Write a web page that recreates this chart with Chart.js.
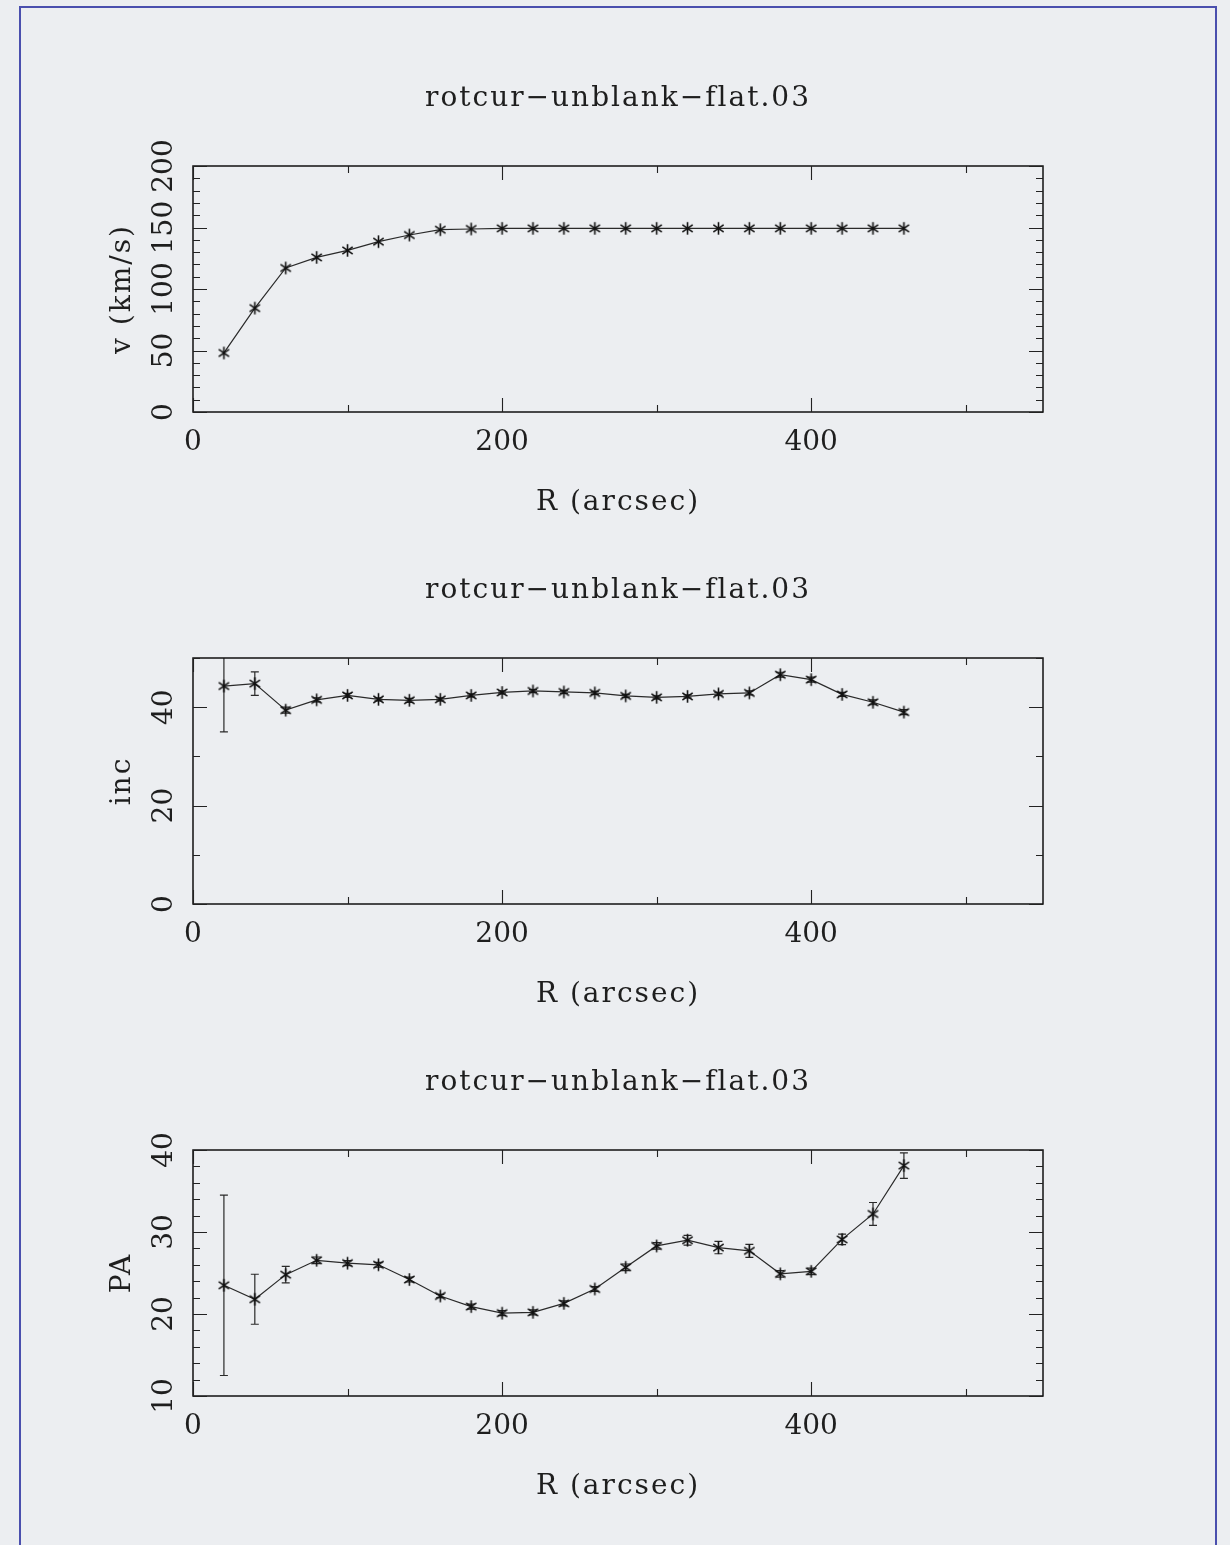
<!DOCTYPE html>
<html>
<head>
<meta charset="utf-8">
<title>rotcur-unblank-flat.03</title>
<script src="https://cdn.jsdelivr.net/npm/chart.js@4.4.1/dist/chart.umd.min.js"></script>
<style>
    html, body { margin: 0; padding: 0; background: #eceef1; }
    body { width: 1230px; height: 1545px; position: relative; overflow: hidden; }
    #frame { position: absolute; left: 19px; top: 6px; width: 1198px; height: 1600px; border: 2px solid #4a4fae; box-sizing: border-box; }
    canvas.panel { position: absolute; left: 0; }
</style>
</head>
<body>
<div id="frame"></div>
<canvas id="vChart" class="panel" width="1230" height="492" style="top:50px"></canvas>
<canvas id="incChart" class="panel" width="1230" height="492" style="top:542px"></canvas>
<canvas id="paChart" class="panel" width="1230" height="492" style="top:1034px"></canvas>
<script>
// ring radii (arcsec)
const radius = [20, 40, 60, 80, 100, 120, 140, 160, 180, 200, 220, 240, 260, 280, 300, 320, 340, 360, 380, 400, 420, 440, 460];

// rotation velocity (km/s)
const vRot = [48.0, 84.5, 117.1, 125.7, 131.4, 138.5, 143.9, 148.2, 148.8, 149.3, 149.3, 149.3, 149.3, 149.3, 149.3, 149.3, 149.3, 149.3, 149.3, 149.3, 149.3, 149.3, 149.3];

// inclination and its error
const incl = [44.3, 44.8, 39.4, 41.5, 42.4, 41.6, 41.4, 41.6, 42.4, 43.0, 43.3, 43.1, 42.9, 42.3, 42.0, 42.2, 42.7, 42.9, 46.6, 45.6, 42.6, 41.0, 39.0];
const inclErr = [9.3, 2.4, 0.6, 0.4, 0.4, 0.3, 0.4, 0.3, 0.3, 0.3, 0.3, 0.3, 0.3, 0.3, 0.3, 0.3, 0.3, 0.4, 0.5, 0.5, 0.4, 0.5, 0.5];

// position angle and its error
const posAng = [23.5, 21.8, 24.8, 26.55, 26.2, 26.0, 24.2, 22.2, 20.9, 20.1, 20.2, 21.3, 23.05, 25.7, 28.3, 29.0, 28.1, 27.7, 24.9, 25.2, 29.1, 32.2, 38.1];
const posAngErr = [11.0, 3.05, 1.0, 0.4, 0.3, 0.3, 0.3, 0.2, 0.3, 0.3, 0.3, 0.3, 0.3, 0.4, 0.4, 0.6, 0.75, 0.8, 0.4, 0.4, 0.65, 1.4, 1.55];

const xTickLabels = [0, 200, 400];
const vTickLabels = [0, 50, 100, 150, 200];
const incTickLabels = [0, 20, 40];
const paTickLabels = [10, 20, 30, 40];

const plotTitle = 'rotcur\u2212unblank\u2212flat.03';
const xTitle = 'R (arcsec)';

const FONT = '28px "DejaVu Serif", serif';
const INK = '#1e1e1e';

// pgplot style asterisk marker
function makeAsterisk() {
    var c = document.createElement('canvas');
    c.width = 17; c.height = 17;
    var g = c.getContext('2d');
    g.strokeStyle = '#111';
    g.lineWidth = 1.6;
    var r = 6.3, cx = 8.5, cy = 8.5;
    g.beginPath();
    [90, 35, -35].forEach(function (a) {
        var rad = a * Math.PI / 180;
        g.moveTo(cx - r * Math.cos(rad), cy - r * Math.sin(rad));
        g.lineTo(cx + r * Math.cos(rad), cy + r * Math.sin(rad));
    });
    g.stroke();
    return c;
}
const asterisk = makeAsterisk();

const boxAxes = {
    id: 'boxAxes',
    beforeDatasetsDraw(chart, args, opts) {
        if (!opts.errors) return;
        const ctx = chart.ctx, a = chart.chartArea;
        const xs = chart.scales.x, ys = chart.scales.y;
        ctx.save();
        ctx.beginPath();
        ctx.rect(a.left, a.top, a.right - a.left, a.bottom - a.top);
        ctx.clip();
        ctx.strokeStyle = '#2a2a2a';
        ctx.lineWidth = 1.2;
        opts.values.forEach(function (v, i) {
            const px = xs.getPixelForValue(radius[i]);
            const y1 = ys.getPixelForValue(v + opts.errors[i]);
            const y2 = ys.getPixelForValue(v - opts.errors[i]);
            ctx.beginPath();
            ctx.moveTo(px, y1); ctx.lineTo(px, y2);
            ctx.moveTo(px - 4, y1); ctx.lineTo(px + 4, y1);
            ctx.moveTo(px - 4, y2); ctx.lineTo(px + 4, y2);
            ctx.stroke();
        });
        ctx.restore();
    },
    afterDraw(chart, args, opts) {
        const ctx = chart.ctx, a = chart.chartArea;
        const xs = chart.scales.x, ys = chart.scales.y;
        ctx.save();
        // box
        ctx.strokeStyle = '#111';
        ctx.lineWidth = 1.5;
        ctx.strokeRect(a.left, a.top, a.right - a.left, a.bottom - a.top);
        // ticks
        ctx.lineWidth = 1.1;
        ctx.strokeStyle = '#222';
        ctx.beginPath();
        for (let v = xs.min; v <= xs.max; v += 100) {
            const px = Math.round(xs.getPixelForValue(v)) + 0.5;
            const len = (v % 200 === 0) ? 14 : 7;
            ctx.moveTo(px, a.bottom); ctx.lineTo(px, a.bottom - len);
            ctx.moveTo(px, a.top); ctx.lineTo(px, a.top + len);
        }
        for (let v = ys.min; v <= ys.max + 1e-6; v += opts.yMinor) {
            const py = Math.round(ys.getPixelForValue(v)) + 0.5;
            const len = (Math.abs(v % opts.yMajor) < 1e-6) ? 14 : 7;
            ctx.moveTo(a.left, py); ctx.lineTo(a.left + len, py);
            ctx.moveTo(a.right, py); ctx.lineTo(a.right - len, py);
        }
        ctx.stroke();

        // text
        ctx.fillStyle = INK;
        ctx.font = FONT;
        ctx.letterSpacing = '2px';
        ctx.textAlign = 'center';
        ctx.textBaseline = 'alphabetic';
        const cx = (a.left + a.right) / 2;
        ctx.fillText(plotTitle, cx, a.top - 60);
        ctx.fillText(xTitle, cx, a.bottom + 98);
        ctx.letterSpacing = '0px';
        xTickLabels.forEach(function (t) {
            ctx.fillText(String(t), xs.getPixelForValue(t), a.bottom + 38);
        });
        opts.yLabels.forEach(function (t) {
            ctx.save();
            ctx.translate(172, ys.getPixelForValue(t));
            ctx.rotate(-Math.PI / 2);
            ctx.fillText(String(t), 0, 0);
            ctx.restore();
        });
        ctx.save();
        ctx.letterSpacing = '2px';
        ctx.translate(130, (a.top + a.bottom) / 2);
        ctx.rotate(-Math.PI / 2);
        ctx.fillText(opts.yTitle, 0, 0);
        ctx.restore();
        ctx.restore();
    }
};

function buildPanel(canvasId, values, errors, yMin, yMax, yMajor, yMinor, yLabels, yTitle) {
    const config = {
        type: 'line',
        data: {
            datasets: [{
                data: radius.map((r, i) => ({ x: r, y: values[i] })),
                borderColor: '#2a2a2a',
                borderWidth: 1.2,
                pointStyle: asterisk,
                pointRadius: 6,
                tension: 0,
                fill: false
            }]
        },
        options: {
            responsive: false,
            animation: false,
            devicePixelRatio: 1,
            events: [],
            layout: { padding: { left: 193, right: 187, top: 116, bottom: 130 } },
            scales: {
                x: { type: 'linear', min: 0, max: 550, display: false },
                y: { type: 'linear', min: yMin, max: yMax, display: false }
            },
            plugins: {
                legend: { display: false },
                tooltip: { enabled: false },
                boxAxes: {
                    values: values,
                    errors: errors,
                    yMajor: yMajor,
                    yMinor: yMinor,
                    yLabels: yLabels,
                    yTitle: yTitle
                }
            }
        },
        plugins: [boxAxes]
    };
    return new Chart(document.getElementById(canvasId), config);
}

buildPanel('vChart', vRot, null, 0, 200, 50, 10, vTickLabels, 'v (km/s)');
buildPanel('incChart', incl, inclErr, 0, 50, 20, 10, incTickLabels, 'inc');
buildPanel('paChart', posAng, posAngErr, 10, 40, 10, 2, paTickLabels, 'PA');
</script>
</body>
</html>
